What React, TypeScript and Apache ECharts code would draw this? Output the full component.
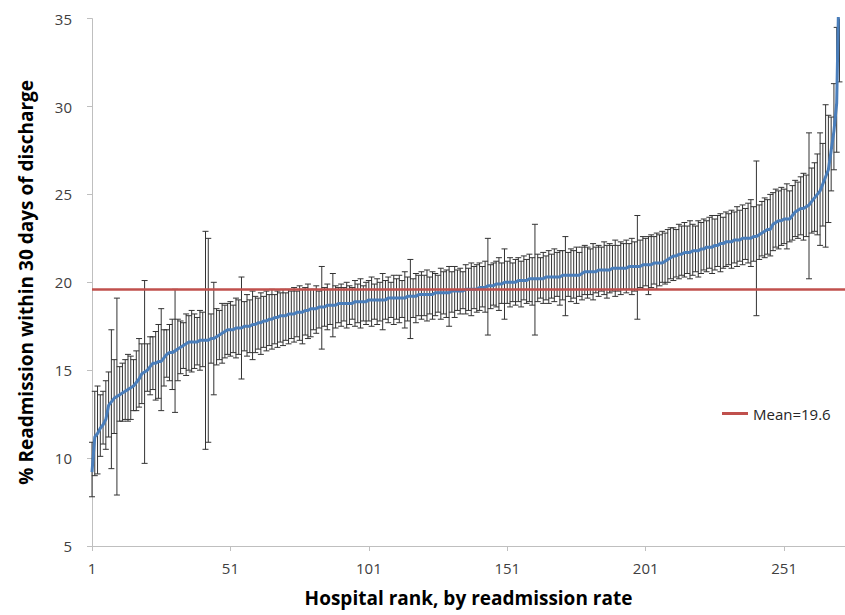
import React, { useEffect, useRef } from "react";
import * as echarts from "echarts";

// Hospital rank categories (1..273 along the axis)
const rankCount = 273;
const ranks: string[] = Array.from({ length: rankCount }, (_, i) => String(i + 1));
const xTickLabels = ["1", "51", "101", "151", "201", "251"];
const yTicks = [5, 10, 15, 20, 25, 30, 35];

const MEAN = 19.6;

// % readmission within 30 days, hospitals sorted by rate
const rates: number[] = [
  9.2, 11.2, 11.4, 11.7, 11.9, 12.2, 13.0, 13.2, 13.4, 13.5,
  13.6, 13.7, 13.8, 13.9, 14.0, 14.1, 14.3, 14.5, 14.8, 14.9,
  15.0, 15.2, 15.4, 15.4, 15.5, 15.5, 15.7, 15.9, 16.0, 16.0,
  16.1, 16.2, 16.3, 16.4, 16.5, 16.6, 16.6, 16.6, 16.6, 16.7,
  16.7, 16.7, 16.7, 16.8, 16.8, 16.9, 17.0, 17.1, 17.2, 17.3,
  17.3, 17.3, 17.4, 17.4, 17.4, 17.5, 17.5, 17.5, 17.6, 17.6,
  17.7, 17.7, 17.8, 17.8, 17.9, 17.9, 18.0, 18.0, 18.1, 18.1,
  18.1, 18.2, 18.2, 18.2, 18.3, 18.3, 18.3, 18.4, 18.4, 18.5,
  18.5, 18.5, 18.6, 18.6, 18.6, 18.7, 18.7, 18.7, 18.7, 18.8,
  18.8, 18.8, 18.8, 18.8, 18.8, 18.9, 18.9, 18.9, 18.9, 18.9,
  19.0, 19.0, 19.0, 19.0, 19.0, 19.0, 19.0, 19.1, 19.1, 19.1,
  19.1, 19.1, 19.1, 19.1, 19.2, 19.2, 19.2, 19.2, 19.3, 19.3,
  19.3, 19.3, 19.3, 19.3, 19.4, 19.4, 19.4, 19.4, 19.4, 19.4,
  19.5, 19.5, 19.5, 19.5, 19.5, 19.6, 19.6, 19.6, 19.6, 19.6,
  19.7, 19.7, 19.7, 19.8, 19.8, 19.8, 19.9, 19.9, 19.9, 20.0,
  20.0, 20.0, 20.0, 20.0, 20.1, 20.1, 20.1, 20.1, 20.2, 20.2,
  20.2, 20.2, 20.2, 20.2, 20.3, 20.3, 20.3, 20.3, 20.3, 20.3,
  20.4, 20.4, 20.4, 20.4, 20.4, 20.4, 20.4, 20.5, 20.6, 20.6,
  20.6, 20.6, 20.6, 20.7, 20.7, 20.7, 20.7, 20.7, 20.8, 20.8,
  20.8, 20.8, 20.8, 20.8, 20.9, 20.9, 20.9, 20.9, 20.9, 21.0,
  21.0, 21.0, 21.0, 21.1, 21.1, 21.1, 21.1, 21.2, 21.3, 21.4,
  21.5, 21.5, 21.6, 21.6, 21.7, 21.7, 21.7, 21.8, 21.8, 21.8,
  21.9, 21.9, 22.0, 22.0, 22.0, 22.1, 22.1, 22.2, 22.2, 22.3,
  22.3, 22.3, 22.4, 22.4, 22.4, 22.5, 22.5, 22.5, 22.5, 22.6,
  22.6, 22.7, 22.8, 22.9, 23.0, 23.0, 23.3, 23.4, 23.5, 23.5,
  23.6, 23.6, 23.6, 23.8, 24.0, 24.1, 24.2, 24.2, 24.3, 24.4,
  24.6, 24.8, 25.0, 25.2, 25.6, 26.0, 26.4, 27.5, 28.6, 30.2, 38.5,
];

// lower confidence limits
const lower: number[] = [
  7.8, 9.0, 9.1, 10.1, 10.8, 10.5, 11.2, 9.4, 11.4, 7.9,
  12.1, 12.1, 12.2, 12.1, 12.2, 12.7, 12.7, 12.9, 13.1, 9.7,
  13.8, 13.6, 13.9, 13.3, 13.4, 12.7, 14.1, 14.6, 14.4, 13.9,
  12.6, 14.4, 14.8, 15.1, 14.7, 15.0, 14.9, 15.1, 15.3, 15.0,
  15.2, 10.5, 10.9, 15.4, 13.6, 15.3, 15.6, 15.4, 15.7, 15.9,
  15.8, 16.0, 15.7, 15.9, 14.5, 16.1, 15.8, 16.0, 15.6, 16.0,
  16.2, 15.9, 16.3, 16.1, 16.4, 16.2, 16.5, 16.3, 16.6, 16.4,
  16.7, 16.5, 16.8, 16.6, 16.9, 16.7, 16.5, 17.0, 16.8, 16.9,
  17.3, 17.1, 17.4, 16.2, 17.5, 17.3, 17.6, 16.9, 17.4, 17.7,
  17.5, 17.8, 17.4, 17.6, 17.9, 17.5, 17.7, 17.4, 17.8, 17.6,
  17.8, 17.5, 17.9, 17.6, 17.8, 17.3, 17.9, 17.7, 18.0, 17.6,
  17.9, 17.7, 18.0, 17.4, 17.8, 16.8, 18.0, 17.7, 18.1, 17.9,
  18.1, 17.8, 18.2, 17.9, 18.1, 18.3, 17.9, 18.2, 18.0, 17.5,
  18.3, 18.0, 18.4, 18.2, 18.5, 18.2, 18.4, 18.1, 18.5, 18.3,
  18.4, 18.6, 18.3, 17.0, 18.5, 18.7, 18.6, 18.4, 18.8, 17.9,
  18.8, 18.6, 18.9, 18.7, 18.9, 18.6, 19.0, 18.8, 18.9, 18.7,
  17.0, 18.9, 19.1, 18.8, 19.0, 18.8, 19.1, 18.9, 19.2, 18.7,
  19.0, 18.1, 19.2, 18.9, 19.1, 18.8, 19.2, 19.0, 19.3, 19.1,
  19.3, 19.0, 19.4, 19.2, 19.5, 19.3, 19.1, 19.4, 19.5, 19.2,
  19.5, 19.3, 19.6, 19.4, 19.6, 19.3, 19.5, 17.9, 19.7, 19.6,
  19.8, 19.3, 19.7, 19.9, 19.6, 19.8, 20.0, 19.9, 20.0, 20.2,
  20.1, 20.3, 20.2, 20.4, 20.3, 20.5, 20.2, 20.4, 20.6, 20.3,
  20.5, 20.7, 20.6, 20.8, 20.5, 20.7, 20.9, 20.6, 20.8, 20.9,
  21.0, 20.8, 21.1, 20.9, 21.2, 21.0, 21.3, 21.1, 20.9, 21.2,
  18.1, 21.3, 21.5, 21.4, 21.6, 21.5, 21.8, 22.0, 21.9, 22.1,
  22.2, 21.9, 22.3, 22.4, 22.6, 22.5, 22.7, 22.4, 22.6, 20.2,
  22.8, 22.9, 22.7, 22.1, 23.2, 22.0, 23.4, 25.2, 26.4, 27.4, 31.4,
];

// upper confidence limits
const upper: number[] = [
  10.9, 13.8, 14.1, 13.6, 13.8, 14.4, 14.9, 17.3, 15.6, 19.1,
  15.2, 15.4, 15.6, 15.9, 15.8, 15.6, 16.1, 16.8, 16.5, 20.1,
  16.5, 16.9, 16.9, 17.2, 17.6, 18.5, 17.3, 17.3, 17.6, 17.9,
  19.6, 17.9, 17.8, 17.7, 18.2, 18.1, 18.4, 18.2, 18.0, 18.4,
  18.3, 22.9, 22.5, 18.2, 20.0, 18.5, 18.4, 18.8, 18.7, 18.8,
  18.9, 18.7, 19.1, 19.0, 20.3, 18.9, 19.3, 19.0, 19.5, 19.2,
  19.1, 19.4, 19.2, 19.5, 19.3, 19.6, 19.3, 19.5, 19.4, 19.6,
  19.4, 19.6, 19.5, 19.7, 19.5, 19.8, 19.6, 19.7, 19.9, 19.6,
  19.6, 19.8, 19.5, 20.9, 19.7, 19.9, 19.6, 20.5, 19.8, 19.7,
  19.9, 19.7, 20.0, 19.8, 19.7, 20.1, 19.9, 20.2, 19.8, 20.0,
  20.1, 20.3, 19.9, 20.2, 20.0, 20.5, 20.1, 20.3, 20.0, 20.4,
  20.2, 20.4, 20.1, 20.6, 20.3, 21.3, 20.2, 20.5, 20.4, 20.6,
  20.4, 20.7, 20.3, 20.6, 20.5, 20.4, 20.8, 20.6, 20.7, 20.9,
  20.6, 20.9, 20.7, 20.8, 20.6, 21.0, 20.8, 21.1, 20.9, 21.0,
  21.1, 20.9, 21.2, 22.5, 21.0, 21.1, 21.2, 21.4, 21.1, 21.9,
  21.2, 21.4, 21.1, 21.3, 21.4, 21.2, 21.5, 21.3, 21.6, 21.4,
  23.3, 21.6, 21.4, 21.7, 21.5, 21.8, 21.6, 21.9, 21.7, 21.8,
  21.8, 22.6, 21.7, 21.9, 21.8, 22.0, 21.7, 22.0, 22.1, 22.0,
  21.9, 22.2, 22.0, 22.1, 22.0, 22.3, 22.1, 22.2, 22.1, 22.4,
  22.1, 22.3, 22.2, 22.4, 22.2, 22.5, 22.3, 23.8, 22.4, 22.6,
  22.5, 22.6, 22.7, 22.6, 22.8, 22.7, 22.9, 22.8, 23.0, 23.1,
  23.1, 23.0, 23.3, 23.2, 23.4, 23.2, 23.5, 23.3, 23.2, 23.5,
  23.4, 23.6, 23.5, 23.7, 23.8, 23.6, 23.8, 23.9, 23.7, 24.0,
  23.9, 24.1, 24.0, 24.3, 24.1, 24.4, 24.2, 24.5, 24.7, 24.3,
  26.9, 24.4, 24.6, 24.8, 24.7, 25.0, 25.1, 25.3, 25.2, 25.4,
  25.3, 25.6, 25.2, 25.5, 25.8, 25.7, 26.0, 26.2, 26.1, 28.5,
  26.5, 26.8, 27.3, 28.5, 27.9, 30.1, 29.5, 29.4, 31.3, 34.5, 46.0,
];

const FONT = "'Open Sans', 'Noto Sans', sans-serif";

export default function App() {
  const ref = useRef<HTMLDivElement>(null);

  useEffect(() => {
    document.body.style.margin = "0";
    document.body.style.overflow = "hidden";
    if (!ref.current) return;
    const chart = echarts.init(ref.current, null, { renderer: "svg" });

    const errData = rates.map((_, i) => [i, lower[i], upper[i]]);
    const labelSet = new Set(xTickLabels);

    const option: any = {
      animation: false,
      backgroundColor: "#ffffff",
      textStyle: { fontFamily: FONT },
      grid: {
        left: 92,
        right: 0,
        top: 18.6,
        bottom: 69,
        containLabel: false,
        outerBoundsMode: "none",
      },
      legend: {
        data: ["Mean=19.6"],
        left: 717,
        top: 401,
        icon: "rect",
        itemWidth: 26,
        itemHeight: 3,
        textStyle: { fontFamily: FONT, fontSize: 15, color: "#262626" },
        selectedMode: false,
      },
      xAxis: {
        type: "category",
        data: ranks,
        boundaryGap: false,
        name: "Hospital rank, by readmission rate",
        nameLocation: "middle",
        nameGap: 42,
        nameTextStyle: {
          fontFamily: FONT,
          fontSize: 19,
          fontWeight: "bold",
          color: "#000000",
        },
        axisLine: { show: true, lineStyle: { color: "#bfbfbf", width: 1 } },
        axisTick: {
          show: true,
          length: 5,
          interval: (idx: number, val: string) => labelSet.has(val),
          lineStyle: { color: "#bfbfbf" },
        },
        axisLabel: {
          interval: (idx: number, val: string) => labelSet.has(val),
          margin: 14,
          fontFamily: FONT,
          fontSize: 15,
          color: "#404040",
        },
        splitLine: { show: false },
      },
      yAxis: {
        type: "value",
        min: 5,
        max: 35,
        interval: 5,
        name: "% Readmission within 30 days of discharge",
        nameLocation: "middle",
        nameGap: 57,
        nameTextStyle: {
          fontFamily: FONT,
          fontSize: 19,
          fontWeight: "bold",
          color: "#000000",
        },
        axisLine: { show: true, lineStyle: { color: "#bfbfbf", width: 1 } },
        axisTick: { show: true, length: 5, lineStyle: { color: "#bfbfbf" } },
        axisLabel: {
          margin: 20,
          fontFamily: FONT,
          fontSize: 15,
          color: "#404040",
          formatter: (v: number) => (yTicks.includes(v) ? String(v) : ""),
        },
        splitLine: { show: false },
      },
      series: [
        {
          type: "custom",
          name: "CI",
          z: 1,
          silent: true,
          encode: { x: 0, y: [1, 2] },
          data: errData,
          renderItem: (params: any, api: any) => {
            const i = api.value(0);
            const lo = api.value(1);
            const hi = api.value(2);
            const cs = params.coordSys;
            const pLo = api.coord([i, lo]);
            const pHi = api.coord([i, hi]);
            const x = pLo[0];
            const top = Math.max(pHi[1], cs.y);
            const bot = Math.min(pLo[1], cs.y + cs.height);
            const style = { stroke: "#333333", lineWidth: 1 };
            const children: any[] = [
              { type: "line", shape: { x1: x, y1: top, x2: x, y2: bot }, style },
              { type: "line", shape: { x1: x - 3, y1: bot, x2: x + 3, y2: bot }, style },
            ];
            if (pHi[1] >= cs.y) {
              children.push({
                type: "line",
                shape: { x1: x - 3, y1: top, x2: x + 3, y2: top },
                style,
              });
            }
            return { type: "group", children };
          },
        },
        {
          type: "line",
          name: "Rate",
          z: 3,
          data: rates,
          symbol: "none",
          showSymbol: false,
          clip: true,
          lineStyle: { color: "#4a7ebb", width: 3 },
          itemStyle: { color: "#4a7ebb" },
          markLine: {
            silent: true,
            symbol: "none",
            label: { show: false },
            lineStyle: { color: "#c0504d", width: 2.5, type: "solid" },
            data: [{ yAxis: MEAN }],
          },
        },
        {
          type: "line",
          name: "Mean=19.6",
          data: [],
          symbol: "none",
          color: "#c0504d",
          itemStyle: { color: "#c0504d" },
          lineStyle: { color: "#c0504d", width: 2.5 },
        },
      ],
    };

    chart.setOption(option);
    return () => chart.dispose();
  }, []);

  return (
    <div
      ref={ref}
      style={{ position: "absolute", left: 0, top: 0, width: 845, height: 615 }}
    />
  );
}
